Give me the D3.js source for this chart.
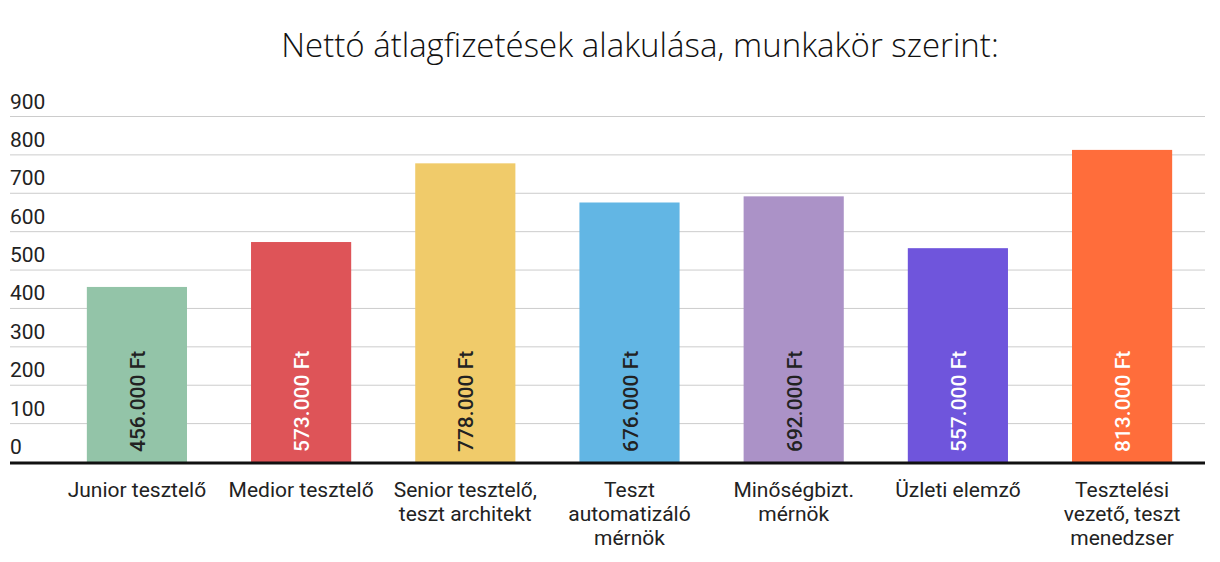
<!DOCTYPE html>
<html><head><meta charset="utf-8">
<script src="https://cdn.jsdelivr.net/npm/d3@7"></script>
<style>body{margin:0;background:#fff}</style></head>
<body><svg id="c" width="1220" height="562"></svg>
<script>
const categories=[["Junior tesztelő"],["Medior tesztelő"],["Senior tesztelő,","teszt architekt"],["Teszt","automatizáló","mérnök"],["Minőségbizt.","mérnök"],["Üzleti elemző"],["Tesztelési","vezető, teszt","menedzser"]];
const values=[456,573,778,676,692,557,813];
const valueLabels=["456.000 Ft","573.000 Ft","778.000 Ft","676.000 Ft","692.000 Ft","557.000 Ft","813.000 Ft"];
const colors=["#93c4a8","#de5458","#f0cb6a","#62b6e4","#ab92c7","#6f55dc","#ff6d3b"];
const labelColors=["#222","#fff","#222","#222","#222","#fff","#fff"];
const ticks=[0,100,200,300,400,500,600,700,800,900];
const svg=d3.select("#c");
const y=d3.scaleLinear().domain([0,900]).range([462,116.5]);
const x=d3.scaleBand().domain(d3.range(values.length)).range([54,1205]).paddingInner(0.39).paddingOuter(0.2);
svg.append("text").attr("x",640).attr("y",57).attr("text-anchor","middle").attr("font-family","Open Sans").attr("font-weight",300).attr("font-size",33).attr("fill","#111").text("Nettó átlagfizetések alakulása, munkakör szerint:");
const g=svg.append("g");
ticks.forEach(t=>{
  if(t>0) g.append("line").attr("x1",10).attr("x2",1205).attr("y1",y(t)).attr("y2",y(t)).attr("stroke","#ccc");
  g.append("text").attr("x",10).attr("y",y(t)-8).attr("font-family","Roboto").attr("font-size",21).attr("fill","#222").text(t);
});
values.forEach((v,i)=>{
  svg.append("rect").attr("x",x(i)).attr("width",x.bandwidth()).attr("y",y(v)).attr("height",y(0)-y(v)).attr("fill",colors[i]);
  const cx=x(i)+x.bandwidth()/2;
  svg.append("text").attr("transform",`translate(${cx+8},${y(0)-10}) rotate(-90)`).attr("font-family","Roboto").attr("font-weight",500).attr("font-size",21).attr("fill",labelColors[i]).text(valueLabels[i]);
  const t=svg.append("text").attr("text-anchor","middle").attr("font-family","Roboto").attr("font-size",21).attr("fill","#222");
  categories[i].forEach((l,k)=>t.append("tspan").attr("x",cx).attr("y",497+k*24).text(l));
});
svg.append("line").attr("x1",10).attr("x2",1205).attr("y1",y(0)+1).attr("y2",y(0)+1).attr("stroke","#111").attr("stroke-width",3);
</script></body></html>
